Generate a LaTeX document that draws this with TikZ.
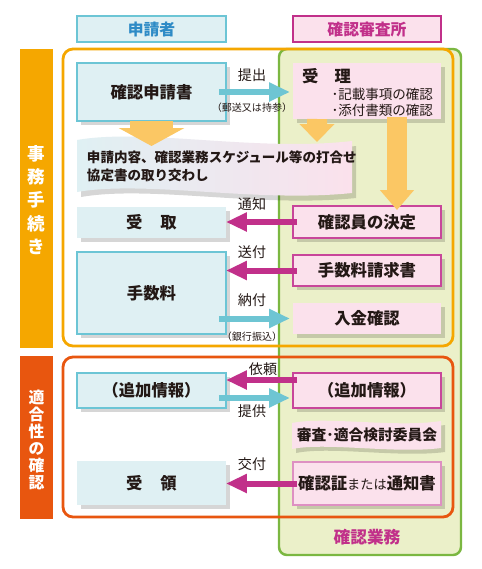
\documentclass[tikz,border=0pt]{standalone}
\usepackage{fontspec}
\setmainfont{Noto Sans CJK JP}
\usetikzlibrary{arrows.meta,positioning,shadows}

\definecolor{appfill}{HTML}{DFF0F3}
\definecolor{appline}{HTML}{6CC5D5}
\definecolor{offfill}{HTML}{FBE1EC}
\definecolor{offline}{HTML}{C8469A}
\definecolor{magarrow}{HTML}{C1308A}
\definecolor{cyanarrow}{HTML}{6EC5D3}
\definecolor{greenfill}{HTML}{EBF0C9}
\definecolor{greenline}{HTML}{7BB741}
\definecolor{orangeline}{HTML}{F5A700}
\definecolor{redline}{HTML}{E8560F}
\definecolor{blockarrow}{HTML}{FBC764}
\definecolor{headblue}{HTML}{2E8BC6}
\definecolor{textdark}{HTML}{231815}

\begin{document}
\begin{tikzpicture}[x=0.02cm, y=-0.02cm,
  every node/.style={text=textdark, inner sep=0pt, outer sep=0pt},
  shadebox/.style={drop shadow={shadow xshift=0.08cm, shadow yshift=-0.08cm, fill=black, opacity=0.16}},
  appbox/.style={shadebox, fill=appfill, draw=appline, line width=0.7pt, minimum width=2.98cm, font=\fontsize{9.3}{11}\selectfont\bfseries},
  offbox/.style={shadebox, fill=offfill, draw=offline, line width=0.7pt, minimum width=2.96cm, font=\fontsize{9.3}{11}\selectfont\bfseries},
  noline/.style={draw=none},
  headbox/.style={line width=0.8pt, minimum height=0.52cm, font=\fontsize{9}{11}\selectfont\bfseries},
  bartext/.style={text=white, align=center, font=\bfseries},
  label/.style={font=\fontsize{8}{10}\selectfont},
  smalllabel/.style={font=\fontsize{5.7}{7}\selectfont},
  sendarrow/.style={draw=cyanarrow, line width=0.12cm, -{Triangle[length=0.42cm, width=0.36cm]}},
  backarrow/.style={draw=magarrow, line width=0.12cm, -{Triangle[length=0.42cm, width=0.36cm]}},
  flowarrow/.style={draw=blockarrow, line width=0.4cm, -{Triangle[length=0.36cm, width=0.68cm]}}]
\useasboundingbox (0,0) rectangle (481,569);

% frames
\fill[white, rounded corners=0.2cm] (63,49) rectangle (453,346);
\fill[white, rounded corners=0.2cm] (63,357) rectangle (453,517);
\filldraw[fill=greenfill, draw=greenline, line width=1.4pt, rounded corners=0.16cm] (279,49) rectangle (461,555);
\draw[orangeline, line width=1.6pt, rounded corners=0.2cm] (63,49) rectangle (453,346);
\draw[redline, line width=1.6pt, rounded corners=0.2cm] (63,357) rectangle (453,517);

% side bars
\fill[orangeline] (20,49) rectangle (53,348);
\node[bartext, font=\fontsize{10}{13.3}\selectfont\bfseries] (procedure) at (36.5,200) {事\\務\\手\\続\\き};
\fill[redline] (20,356) rectangle (53,519);
\node[bartext, font=\fontsize{9}{9.6}\selectfont\bfseries] (conformity) at (36.5,440) {適\\合\\性\\の\\確\\認};

% headers
\node[headbox, fill=appfill, draw=appline, minimum width=2.98cm, text=headblue] (applicant) at (151.5,29) {申請者};
\node[headbox, fill=offfill, draw=magarrow, minimum width=2.96cm, text=magarrow] (office) at (367,29) {確認審査所};

% wavy banners
\fill[black, opacity=0.16] (81,145) .. controls (150,133) and (260,157) .. (356,146) -- (356,198) .. controls (260,208) and (150,185) .. (81,197) -- cycle;
\shade[left color=appfill, right color=offfill] (77,140) .. controls (146,128) and (256,152) .. (352,141) -- (352,193) .. controls (256,203) and (146,180) .. (77,192) -- cycle;
\node[anchor=west, align=left, font=\fontsize{7.7}{10.2}\selectfont\bfseries] (talks) at (87,166) {申請内容、確認業務スケジュール等の打合せ\\協定書の取り交わし};

\fill[black, opacity=0.16] (296,427) .. controls (330,420) and (400,432) .. (445,425) -- (445,452) .. controls (400,458) and (330,446) .. (296,453) -- cycle;
\fill[offfill] (292,423) .. controls (326,416) and (396,428) .. (441,421) -- (441,448) .. controls (396,454) and (326,442) .. (292,449) -- cycle;
\node[font=\fontsize{8.4}{10}\selectfont\bfseries] (committee) at (367,435) {審査･適合検討委員会};

% applicant side
\node[appbox, minimum height=1.16cm] (apply) at (151.5,92) {確認申請書};
\node[appbox, noline, minimum height=0.62cm] (receive) at (151.5,222.5) {受\hspace{1.1em}取};
\node[appbox, minimum height=1.64cm] (fee) at (151.5,293) {手数料};
\node[appbox, minimum height=0.7cm] (askL) at (151.5,390.5) {（追加情報）};
\node[appbox, noline, minimum height=0.88cm] (collect) at (151.5,483) {受\hspace{1.1em}領};

% office side
\node[offbox, noline, minimum height=1.12cm] (accept) at (367,91) {};
\node[anchor=west, font=\fontsize{9.3}{11}\selectfont\bfseries] (accepttitle) at ([shift={(0.18cm,-0.26cm)}]accept.north west) {受\hspace{1em}理};
\node[anchor=east, align=left, font=\fontsize{7.7}{9}\selectfont] (acceptnote) at ([shift={(-0.16cm,-0.22cm)}]accept.east) {･記載事項の確認\\･添付書類の確認};
\node[offbox, minimum height=0.64cm] (decide) at (367,222) {確認員の決定};
\node[offbox, minimum height=0.62cm] (invoice) at (367,270.5) {手数料請求書};
\node[offbox, noline, minimum height=0.62cm] (payment) at (367,318.5) {入金確認};
\node[offbox, minimum height=0.7cm] (askR) at (367,390.5) {（追加情報）};
\node[offbox, draw=offline!60, minimum height=0.86cm] (certificate) at (367,483.5) {確認証{\fontsize{7.5}{9}\selectfont\mdseries または}通知書};

\node[font=\fontsize{9.5}{11}\selectfont\bfseries, text=magarrow] (work) at (367,537) {確認業務};

% flow arrows
\coordinate (meet1) at (151.5,146);
\coordinate (meet2) at (317,142);
\draw[flowarrow, line width=0.88cm, -{Triangle[length=0.36cm, width=1.3cm]}] (apply.south) -- (meet1);
\draw[flowarrow] ([xshift=-1cm]accept.south) -- (meet2);
\draw[flowarrow, -{Triangle[length=0.4cm, width=0.66cm]}] ([xshift=0.6cm, yshift=0.04cm]accept.south) -- ([xshift=0.6cm, yshift=-0.08cm]decide.north);

% exchanges
\coordinate (payfrom) at (fee.east |- payment.west);
\coordinate (sendfrom) at (fee.east |- invoice.west);
\draw[sendarrow] ([xshift=-0.14cm]apply.east) -- ([xshift=-0.06cm]apply.east -| accept.west);
\draw[backarrow] ([xshift=0.08cm]decide.west) -- (decide.west -| receive.east);
\draw[backarrow] ([xshift=0.08cm]invoice.west) -- (sendfrom);
\draw[sendarrow] ([xshift=-0.14cm]payfrom) -- ([xshift=-0.06cm]payment.west);
\draw[backarrow] ([shift={(0.08cm,0.21cm)}]askR.west) -- ([yshift=0.21cm]askL.east);
\draw[sendarrow] ([shift={(-0.14cm,-0.15cm)}]askL.east) -- ([shift={(-0.06cm,-0.15cm)}]askR.west);
\draw[backarrow] ([xshift=0.08cm]certificate.west) -- (certificate.west -| collect.east);

% arrow labels
\node[label] (submit) at (252,75) {提出};
\node[smalllabel] (submitnote) at (252,108) {（郵送又は持参）};
\node[label] (notify) at (252,204) {通知};
\node[label] (send) at (252,252) {送付};
\node[label] (pay) at (252,300) {納付};
\node[smalllabel] (paynote) at (252,337) {（銀行振込）};
\node[label] (request) at (263,369) {依頼};
\node[label] (provide) at (252,411) {提供};
\node[label] (issue) at (252,464) {交付};
\end{tikzpicture}
\end{document}
